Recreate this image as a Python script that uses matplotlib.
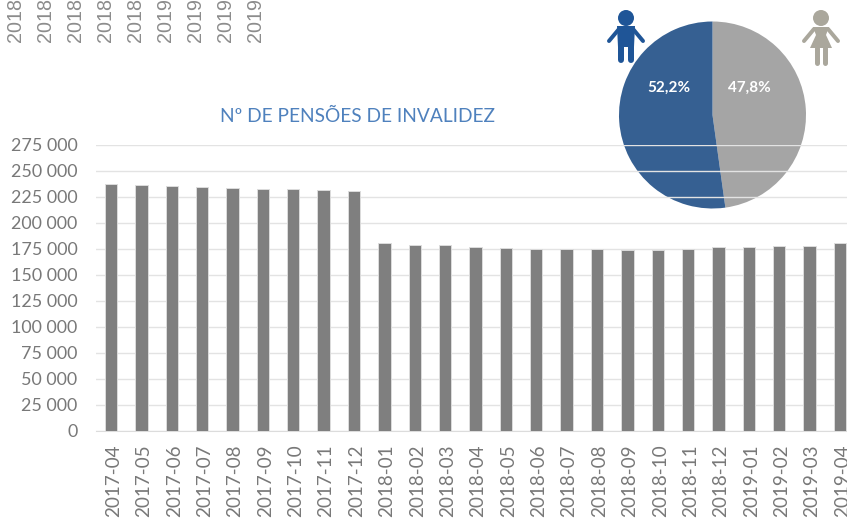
import matplotlib
matplotlib.use("Agg")
import matplotlib.pyplot as plt
from matplotlib.patches import Circle, Polygon
from matplotlib.transforms import ScaledTranslation

W, H = 847, 518
months = ["2017-04","2017-05","2017-06","2017-07","2017-08","2017-09","2017-10","2017-11","2017-12",
          "2018-01","2018-02","2018-03","2018-04","2018-05","2018-06","2018-07","2018-08","2018-09",
          "2018-10","2018-11","2018-12","2019-01","2019-02","2019-03","2019-04"]
pensions = [237000,236000,235000,234000,233000,232000,232000,231000,230500,
            180000,178000,178000,176000,175500,174500,174500,174500,173500,
            173500,175000,176000,176000,177000,177500,180500]
yticks = [0,25000,50000,75000,100000,125000,150000,175000,200000,225000,250000,275000]
ghost_labels = ["2018-08","2018-09","2018-10","2018-11","2018-12","2019-01","2019-02","2019-03","2019-04"]
pie_labels = ["47,8%","52,2%"]
pie_values = [47.8,52.2]
title = "Nº DE PENSÕES DE INVALIDEZ"

GREY = "#7f7f7f"; TXT = "#787878"; FONT = "Lato"
fig = plt.figure(figsize=(W/100, H/100), dpi=100, facecolor="white")

def box(x0, y0, x1, y1):
    return [x0/W, 1-y1/H, (x1-x0)/W, (y1-y0)/H]

# pie sits below the chart's gridlines
pa = fig.add_axes(box(612.5,15,812.5,215), zorder=1)
pa.pie(pie_values, startangle=90, counterclock=False, radius=93.5/100,
       colors=["#a5a5a5","#366092"], labels=pie_labels, labeldistance=None)
pa.set_xlim(-1,1); pa.set_ylim(-1,1); pa.axis("off")
for lab, px in zip(pie_labels, [749,669]):
    pa.text((px-712.5)/100, (115-88)/100, lab, color="white", fontsize=11, fontweight="bold",
            ha="center", va="center", family=FONT)

ax = fig.add_axes(box(96,144.5,847,430.5), zorder=2)
ax.patch.set_alpha(0)
x = list(range(len(months)))
ax.bar(x, pensions, width=0.41, color=GREY, zorder=3, edgecolor="#dcdcdc", linewidth=0.7)
ax.set_xlim((96-111)/30.375, (847-111)/30.375)
ax.set_ylim(0,275000)
ax.set_yticks(yticks)
ax.set_yticklabels([f"{v:,}".replace(","," ") for v in yticks], fontsize=12.9, color=TXT, family=FONT)
ax.set_xticks(x)
ax.set_xticklabels(months, rotation=90, fontsize=13.6, color=TXT, family=FONT)
ax.tick_params(length=0, axis="y", pad=13.5)
ax.tick_params(length=0, axis="x", pad=10)
shift = ScaledTranslation(2.5/100, 0, fig.dpi_scale_trans)
for lab in ax.get_xticklabels():
    lab.set_transform(lab.get_transform() + shift)
ax.grid(axis="y", color="#e3e3e3", linewidth=1, zorder=0)
ax.set_axisbelow(True)
for s in ax.spines.values(): s.set_visible(False)
ax.spines["bottom"].set_visible(True); ax.spines["bottom"].set_color("#dcdcdc")

# overlay in pixel coordinates
ov = fig.add_axes([0,0,1,1], zorder=3)
ov.set_xlim(0,W); ov.set_ylim(H,0); ov.axis("off")
ov.text(358, 116, title, color="#4f81bd", fontsize=13.75, ha="center", va="center", family=FONT)
for i, lab in enumerate(ghost_labels):
    ov.text(15.5+30*i, 42, lab, rotation=90, color="#8c8c8c", fontsize=14.2, ha="center", va="bottom",
            family="Liberation Sans", clip_on=True)

def limb(p, q, w, col):
    ov.plot([p[0],q[0]], [p[1],q[1]], color=col, lw=w*0.72, solid_capstyle="round")

def person(cx, col, female):
    ov.add_patch(Circle((cx,18), 8, color=col, lw=0))
    limb((cx-7,29),(cx-17,41),4,col); limb((cx+7,29),(cx+17,41),4,col)
    if female:
        ov.add_patch(Polygon([(cx-8,27),(cx+8,27),(cx+5,35),(cx+11,48),(cx-11,48),(cx-5,35)], color=col, lw=0))
        limb((cx-4,48),(cx-4,63),5,col); limb((cx+4,48),(cx+4,63),5,col)
    else:
        ov.add_patch(Polygon([(cx-9,26),(cx+9,26),(cx+8,47),(cx-8,47)], color=col, lw=0))
        limb((cx-5,46),(cx-5,60),6,col); limb((cx+5,46),(cx+5,60),6,col)
person(626, "#1f5597", False)
person(821, "#aaa79c", True)

fig.savefig("out.png", dpi=100)
